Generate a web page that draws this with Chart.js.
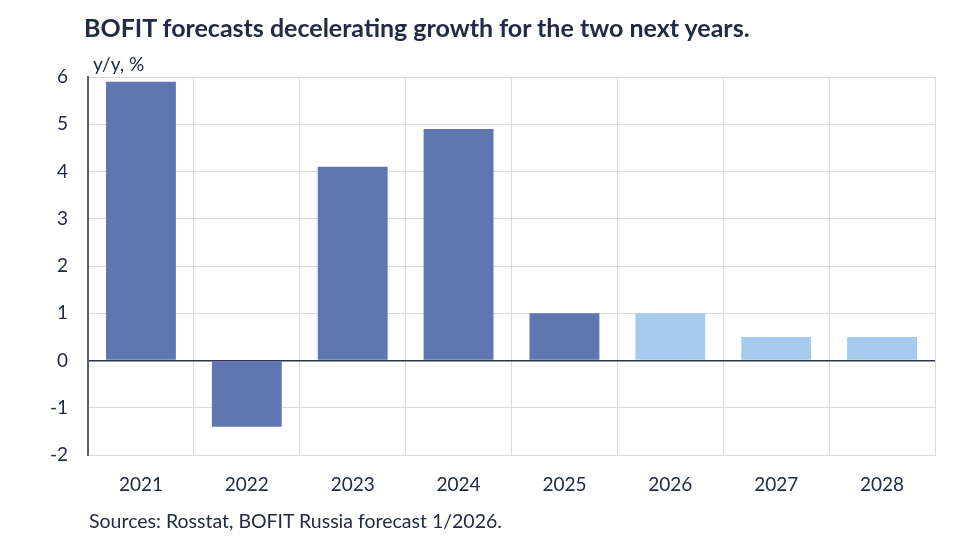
<!DOCTYPE html>
<html>
<head>
<meta charset="utf-8">
<script src="https://cdn.jsdelivr.net/npm/chart.js@4"></script>
<style>
  html, body { margin: 0; padding: 0; background: #fff; }
  #wrap { position: relative; width: 979px; height: 551px; font-family: Lato, "Open Sans", sans-serif; color: #222b45; }
  #title { position: absolute; left: 84px; top: 12px; font-size: 25px; font-weight: bold; white-space: nowrap; }
  #unit { position: absolute; left: 93px; top: 52px; font-size: 19px; }
  #source { position: absolute; left: 89px; top: 509px; font-size: 19.5px; }
  canvas { position: absolute; left: 0; top: 0; }
</style>
</head>
<body>
<div id="wrap">
  <canvas id="myChart" width="979" height="551"></canvas>
  <div id="title">BOFIT forecasts decelerating growth for the two next years.</div>
  <div id="unit">y/y, %</div>
  <div id="source">Sources: Rosstat, BOFIT Russia forecast 1/2026.</div>
</div>
<script>
var years = ['2021', '2022', '2023', '2024', '2025', '2026', '2027', '2028'];
var growth = [5.9, -1.4, 4.1, 4.9, 1.0, 1.0, 0.5, 0.5];
var isForecast = [false, false, false, false, false, true, true, true];

var actualColor = '#5f76b1';
var forecastColor = '#a7cbec';
var textColor = '#222b45';

function getColors() {
  return isForecast.map(function(f) { return f ? forecastColor : actualColor; });
}

function init() {
  var ctx = document.getElementById('myChart').getContext('2d');
  var myChart = new Chart(ctx, {
    type: 'bar',
    data: {
      labels: years,
      datasets: [{
        label: 'GDP growth',
        data: growth,
        backgroundColor: getColors(),
        borderWidth: 0,
        barPercentage: 0.66,
        categoryPercentage: 1.0
      }]
    },
    options: {
      responsive: false,
      animation: false,
      layout: { padding: { left: 0, right: 44, top: 77, bottom: 56 } },
      plugins: {
        legend: { display: false },
        tooltip: { enabled: false }
      },
      scales: {
        x: {
          grid: { color: '#dadada', lineWidth: 1, drawTicks: false, offset: true },
          border: { color: '#dadada', width: 1 },
          ticks: { color: textColor, font: { family: 'Lato', size: 19 }, padding: 18 },
          afterFit: function(scale) { scale.height = 40; }
        },
        y: {
          min: -2,
          max: 6,
          grid: {
            drawTicks: false,
            color: function(c) { return c.tick.value === 0 ? '#2a3350' : '#dadada'; },
            lineWidth: function(c) { return c.tick.value === 0 ? 1.5 : 1; }
          },
          border: { color: '#5a5f6e', width: 2 },
          ticks: { stepSize: 1, color: textColor, font: { family: 'Lato', size: 19 }, padding: 20 },
          afterFit: function(scale) { scale.width = 88; }
        }
      }
    }
  });
}

init();
</script>
</body>
</html>
